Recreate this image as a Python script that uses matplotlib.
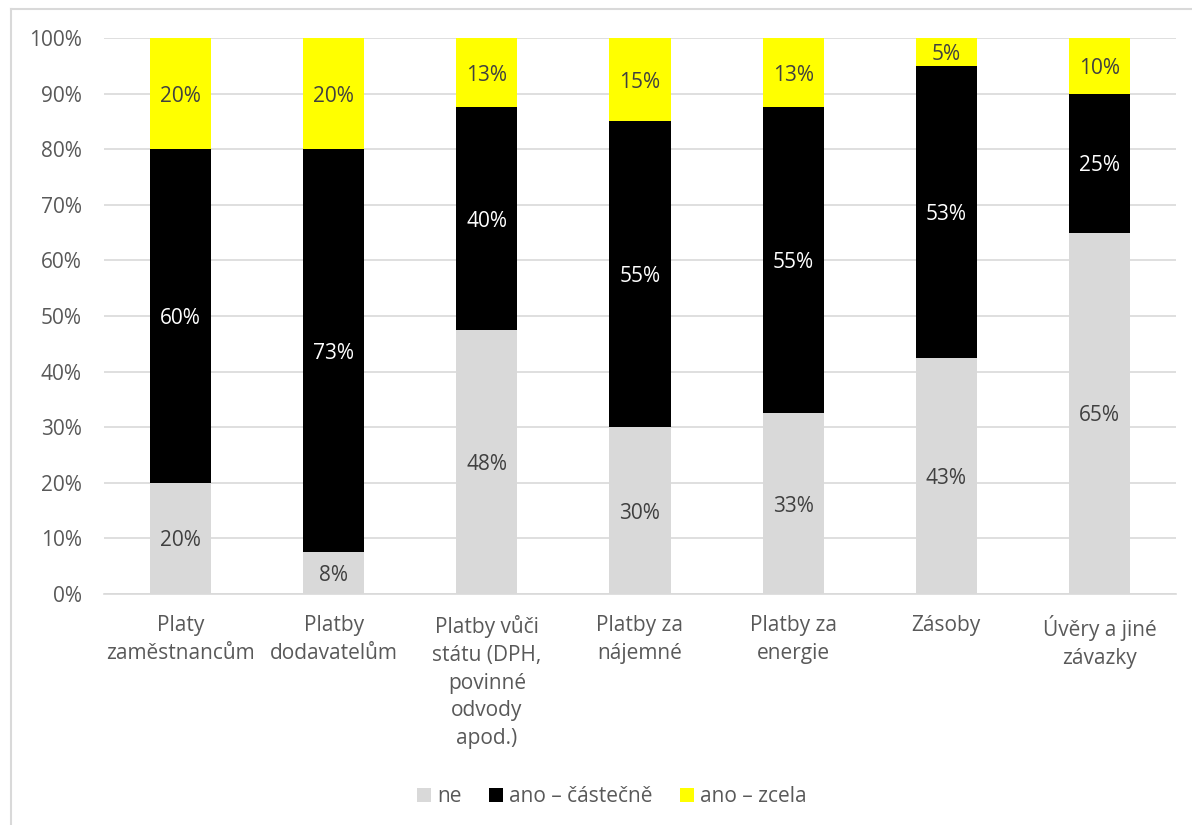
import matplotlib.pyplot as plt
import numpy as np
from matplotlib.lines import Line2D
from matplotlib.patches import Patch
from matplotlib.transforms import offset_copy

plt.rcParams['font.family'] = ['Open Sans', 'DejaVu Sans']

categories = [
    "Platy\nzaměstnancům",
    "Platby\ndodavatelům",
    "Platby vůči\nstátu (DPH,\npovinné\nodvody\napod.)",
    "Platby za\nnájemné",
    "Platby za\nenergie",
    "Zásoby",
    "Úvěry a jiné\nzávazky",
]
ne = [20, 7.5, 47.5, 30, 32.5, 42.5, 65]
castecne = [60, 72.5, 40, 55, 55, 52.5, 25]
zcela = [20, 20, 12.5, 15, 12.5, 5, 10]
series_names = ["ne", "ano – částečně", "ano – zcela"]
series_colors = ["#d9d9d9", "#000000", "#ffff00"]
label_colors = ["#404040", "#ffffff", "#404040"]
yticks = [0, 10, 20, 30, 40, 50, 60, 70, 80, 90, 100]

FS = 15
W, H = 1192, 825
fig = plt.figure(figsize=(W / 100, H / 100), dpi=100)
ax = fig.add_axes([104 / W, 1 - 594 / H, (1176 - 104) / W, (594 - 38) / H])
label_tf = offset_copy(ax.transData, fig=fig, x=0, y=-2.5, units="dots")

x = np.arange(len(categories))
bottom = np.zeros(len(categories))
for vals, color, lc in zip([ne, castecne, zcela], series_colors, label_colors):
    vals = np.array(vals, dtype=float)
    ax.bar(x, vals, 0.4, bottom=bottom, color=color, zorder=3)
    for xi, b, v in zip(x, bottom, vals):
        ax.text(xi, b + v / 2, f"{int(np.floor(v + 0.5))}%", ha="center",
                va="center", color=lc, fontsize=FS, zorder=4, transform=label_tf)
    bottom += vals

ax.set_xlim(-0.5, len(categories) - 0.5)
ax.set_ylim(0, 100)
ax.set_yticks(yticks)
ax.set_yticklabels([f"{t}%" for t in yticks])
ax.yaxis.grid(True, color="#d9d9d9", linewidth=1.2, zorder=0)
ax.set_xticks(x)
ax.set_xticklabels(categories, linespacing=1.43)
ax.tick_params(axis="both", length=0, labelsize=FS, labelcolor="#595959")
ax.tick_params(axis="y", pad=16)
ax.tick_params(axis="x", pad=15)
for s in ["top", "right", "left"]:
    ax.spines[s].set_visible(False)
ax.spines["bottom"].set_color("#d9d9d9")
ax.spines["bottom"].set_linewidth(1.2)

handles = [Patch(facecolor=c, edgecolor="none") for c in series_colors]
fig.legend(handles, series_names, loc="center", bbox_to_anchor=(612 / W, 1 - 797 / H),
           ncol=3, frameon=False, fontsize=FS, handlelength=0.67, handleheight=0.67,
           handletextpad=0.3, columnspacing=1.3, labelcolor="#595959")

# chart area frame
fig.add_artist(Line2D([11 / W, 1.0], [1 - 9 / H, 1 - 9 / H], color="#d9d9d9", linewidth=1.5))
fig.add_artist(Line2D([11 / W, 11 / W], [0, 1 - 9 / H], color="#d9d9d9", linewidth=1.5))

fig.savefig("out.png", dpi=100)
